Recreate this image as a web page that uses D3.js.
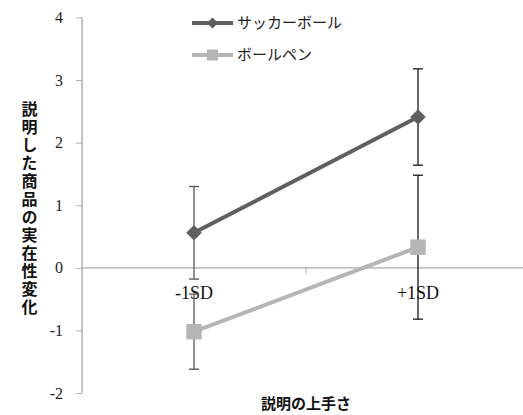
<!DOCTYPE html>
<html>
<head>
<meta charset="utf-8">
<script src="https://cdn.jsdelivr.net/npm/d3@7"></script>
<style>
  html, body { margin: 0; padding: 0; background: #fff; }
  svg { display: block; }
  text { font-family: "Liberation Serif", "DejaVu Serif", "Noto Sans CJK JP", serif; }
  .jp { font-family: "Noto Sans CJK JP", sans-serif; }
</style>
</head>
<body>
<svg id="chart" width="523" height="415"></svg>
<script>
// Categories along the x axis
const categories = ["-1SD", "+1SD"];
// Series names
const seriesNames = ["サッカーボール", "ボールペン"];
// Means per category
const soccerValues = [0.56, 2.41];
const penValues = [-1.02, 0.33];
// Error-bar half widths per category
const soccerErrors = [0.74, 0.77];
const penErrors = [0.60, 1.15];
// Y tick values
const yTicks = [-2, -1, 0, 1, 2, 3, 4];
const yTitle = "説明した商品の実在性変化";
const xTitle = "説明の上手さ";

const svg = d3.select("#chart");

const y = d3.scaleLinear().domain([-2, 4]).range([393, 17.5]);
const x = d3.scaleBand().domain(categories).range([82, 530]);
const cx = d => x(d) + x.bandwidth() / 2;

const series = [
  { name: seriesNames[0], values: soccerValues, errors: soccerErrors, color: "#5f5f5f", symbol: "diamond" },
  { name: seriesNames[1], values: penValues, errors: penErrors, color: "#b5b5b5", symbol: "square" }
];
const errColors = ["#555555", "#1a1a1a"];

// Y axis
const yAxis = svg.append("g").attr("transform", "translate(82,0)")
  .call(d3.axisLeft(y).tickValues(yTicks).tickSize(6).tickPadding(13)
    .tickFormat(d => d < 0 ? "-" + Math.abs(d) : d));
yAxis.select(".domain").attr("stroke", "#b0b0b0").attr("stroke-width", 1.5).attr("d", "M0," + y(4) + "V" + y(-2));
yAxis.selectAll(".tick line").attr("stroke", "#b0b0b0");
yAxis.selectAll(".tick text").attr("font-size", 16).attr("fill", "#222")
  .style("font-family", "'Liberation Serif', serif");

// X axis drawn at y = 0
const xAxis = svg.append("g").attr("transform", "translate(0," + y(0) + ")")
  .call(d3.axisBottom(x).tickSize(0).tickPadding(18));
xAxis.select(".domain").attr("stroke", "#a8a8a8").attr("stroke-width", 1.2).attr("d", "M82,0H523");
xAxis.selectAll(".tick text").attr("font-size", 18).attr("fill", "#111")
  .style("font-family", "'Liberation Serif', serif");
// category separator ticks
svg.append("g").selectAll("line")
  .data([x.range()[0] + x.bandwidth()])
  .join("line")
  .attr("x1", d => d).attr("x2", d => d)
  .attr("y1", y(0)).attr("y2", y(0) + 6)
  .attr("stroke", "#a8a8a8");

// Lines
const line = d3.line().x((d, i) => cx(categories[i])).y(d => y(d));
series.forEach(s => {
  svg.append("path").datum(s.values)
    .attr("d", line).attr("fill", "none")
    .attr("stroke", s.color).attr("stroke-width", 4);
});

// Error bars
series.forEach(s => {
  const g = svg.append("g");
  s.values.forEach((v, i) => {
    const px = cx(categories[i]);
    const col = errColors[i];
    g.append("line").attr("x1", px).attr("x2", px)
      .attr("y1", y(v + s.errors[i])).attr("y2", y(v - s.errors[i]))
      .attr("stroke", col).attr("stroke-width", 1.3);
    [v + s.errors[i], v - s.errors[i]].forEach(e => {
      g.append("line").attr("x1", px - 5).attr("x2", px + 5)
        .attr("y1", y(e)).attr("y2", y(e))
        .attr("stroke", col).attr("stroke-width", 1.3);
    });
  });
});

// Markers (diamonds are rotated squares)
series.forEach(s => {
  svg.append("g").selectAll("path")
    .data(s.values)
    .join("path")
    .attr("d", d3.symbol().type(d3.symbolSquare).size(s.symbol === "diamond" ? 120 : 240))
    .attr("transform", (d, i) => "translate(" + cx(categories[i]) + "," + y(d) + ")" + (s.symbol === "diamond" ? " rotate(45)" : ""))
    .attr("fill", s.color);
});

// Legend
const legend = svg.append("g");
series.forEach((s, i) => {
  const ly = 23 + i * 32;
  legend.append("line").attr("x1", 192).attr("x2", 233).attr("y1", ly).attr("y2", ly)
    .attr("stroke", s.color).attr("stroke-width", 4);
  legend.append("path")
    .attr("d", d3.symbol().type(d3.symbolSquare).size(s.symbol === "diamond" ? 60 : 120))
    .attr("transform", "translate(212.5," + ly + ")" + (s.symbol === "diamond" ? " rotate(45)" : ""))
    .attr("fill", s.color);
  legend.append("text").attr("class", "jp").attr("x", 237).attr("y", ly).attr("dy", "0.36em")
    .attr("font-size", 15).attr("fill", "#222").text(s.name);
});

// Y title, set in vertical writing mode
svg.append("text")
  .attr("class", "jp")
  .attr("x", 29.5).attr("y", 101)
  .style("writing-mode", "vertical-rl")
  .style("letter-spacing", "2px")
  .attr("font-size", 16).attr("font-weight", "bold").attr("fill", "#111")
  .text(yTitle);

// X title
svg.append("text").attr("class", "jp")
  .attr("x", 306).attr("y", 404).attr("dy", "0.36em").attr("text-anchor", "middle")
  .attr("font-size", 15).attr("font-weight", "bold").attr("fill", "#111")
  .text(xTitle);
</script>
</body>
</html>
